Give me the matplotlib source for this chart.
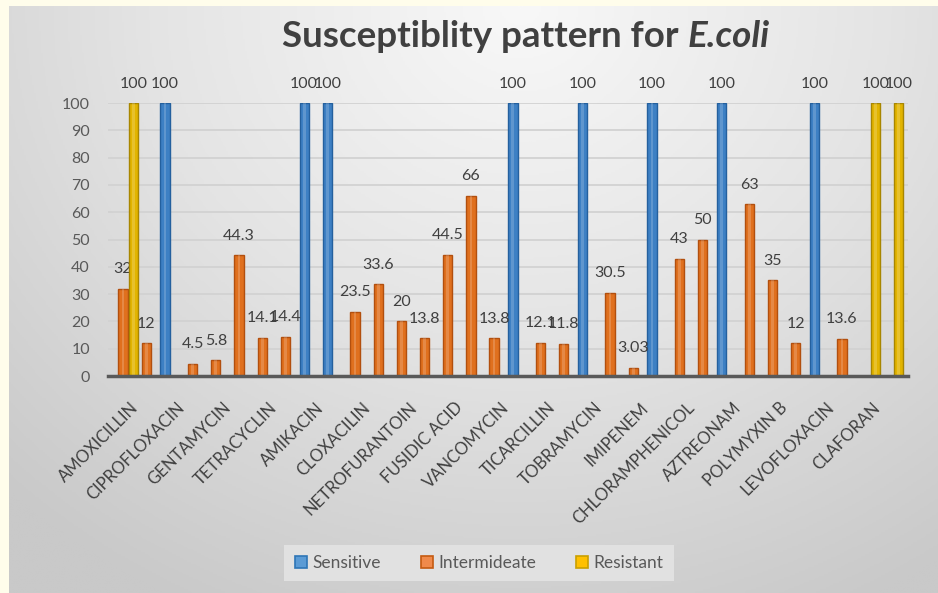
import numpy as np
import matplotlib.pyplot as plt
import matplotlib.transforms as mtransforms
from matplotlib.colors import LinearSegmentedColormap
from matplotlib.patches import Patch

plt.rcParams['font.family'] = ['Lato', 'DejaVu Sans']

# antibiotic names shown on the axis (every second category slot carries a label)
drugs = ['AMOXICILLIN', 'CIPROFLOXACIN', 'GENTAMYCIN', 'TETRACYCLIN', 'AMIKACIN',
         'CLOXACILIN', 'NETROFURANTOIN', 'FUSIDIC ACID', 'VANCOMYCIN', 'TICARCILLIN',
         'TOBRAMYCIN', 'IMIPENEM', 'CHLORAMPHENICOL', 'AZTREONAM', 'POLYMYXIN B',
         'LEVOFLOXACIN', 'CLAFORAN']

# percentages per category slot (None = no bar)
sensitive = [None, None, 100, None, None, None, None, None, 100, 100,
             None, None, None, None, None, None, None, 100, None, None,
             100, None, None, 100, None, None, 100, None, None, None,
             100, None, None, None]
intermediate = [32, 12, None, 4.5, 5.8, 44.3, 14.1, 14.4, None, None,
                23.5, 33.6, 20, 13.8, 44.5, 66, 13.8, None, 12.1, 11.8,
                None, 30.5, 3.03, None, 43, 50, None, 63, 35, 12,
                None, 13.6, None, None]
resistant = [100, None, None, None, None, None, None, None, None, None,
             None, None, None, None, None, None, None, None, None, None,
             None, None, None, None, None, None, None, None, None, None,
             None, None, 100, 100]

series_names = ['Sensitive', 'Intermideate', 'Resistant']

fig = plt.figure(figsize=(9.38, 5.93), dpi=100)
fig.patch.set_facecolor('#FFFDEB')

# chart area with a soft radial gradient (light at top centre)
bg = fig.add_axes([9 / 938, 0, 929 / 938, 1 - 6 / 593])
yy, xx = np.mgrid[0:1:300j, 0:1:500j]
r = np.sqrt((xx - 0.55) ** 2 + ((yy - 1.0) * 0.7) ** 2)
cmap = LinearSegmentedColormap.from_list('bg', ['#f8f8f8', '#e4e4e4', '#c9c9c9'])
bg.imshow(r, cmap=cmap, extent=[0, 1, 0, 1], aspect='auto', origin='lower', vmin=0, vmax=0.8)
bg.axis('off')

ax = fig.add_axes([108 / 938, 1 - 376 / 593, 800 / 938, 273 / 593])
ax.patch.set_alpha(0)

styles = [
    (sensitive, -0.19, '#3D80C4', '#24609E', '#5B9BD5', '#2E75B6'),
    (intermediate, 0.0, '#E0701E', '#B24F0E', '#F08A4B', '#C55A11'),
    (resistant, 0.45, '#E2B400', '#A88600', '#FFC000', '#C9A000'),
]

handles = []
for (values, offset, face, edge, lface, ledge), name in zip(styles, series_names):
    xs = [k + offset for k, v in enumerate(values) if v is not None]
    hs = [v for v in values if v is not None]
    ax.bar(xs, hs, width=0.4, color=face, edgecolor=edge, linewidth=1, zorder=3)
    # lighter strip for a rounded column look
    ax.bar(xs, hs, width=0.12, color='white', alpha=0.18, linewidth=0, zorder=4)
    for x, h in zip(xs, hs):
        ax.annotate(f'{h:g}', (x, h), xytext=(0, 9), textcoords='offset points',
                    ha='center', va='bottom', fontsize=11.5, color='#404040',
                    annotation_clip=False)
    handles.append(Patch(facecolor=lface, edgecolor=ledge, linewidth=1.2, label=name))

ax.set_ylim(0, 100)
ax.set_xlim(-0.65, 33.85)
ax.set_yticks(range(0, 101, 10))
ax.yaxis.grid(True, color='#d2d2d2', linewidth=1.3)
ax.set_axisbelow(True)
for s in ['top', 'right', 'left']:
    ax.spines[s].set_visible(False)
ax.spines['bottom'].set_color('#595959')
ax.spines['bottom'].set_linewidth(2.5)
ax.spines['bottom'].set_zorder(5)
ax.tick_params(axis='y', length=0, pad=13, labelsize=11.5, labelcolor='#595959')

ax.set_xticks(np.arange(0, 34, 2))
ax.set_xticklabels(drugs, rotation=45, ha='right', va='top', rotation_mode='anchor',
                   fontsize=12, color='#404040')
ax.tick_params(axis='x', length=0, pad=17)
shift = mtransforms.ScaledTranslation(7 / 100, 0, fig.dpi_scale_trans)
for lbl in ax.get_xticklabels():
    lbl.set_transform(lbl.get_transform() + shift)

# title: plain bold part plus bold italic organism name
t1 = fig.text(275 / 938, 1 - 47 / 593, 'Susceptiblity pattern for ', fontsize=26.5,
              fontweight='bold', color='#404040', ha='left', va='baseline')
t2 = ax.annotate('E.coli', xy=(1, 0), xycoords=t1, fontsize=26.5, fontweight='bold',
                 fontstyle='italic', color='#404040', ha='left', va='bottom')
fig.canvas.draw()
rend = fig.canvas.get_renderer()
b1 = t1.get_window_extent(rend)
b2 = t2.get_window_extent(rend)
width = b2.x1 - b1.x0
t1.set_x((526 - width / 2) / 938)

fig.legend(handles=handles, loc='center', bbox_to_anchor=(479 / 938, 1 - 563 / 593),
           ncol=3, frameon=True, facecolor='#e1e1e1', edgecolor='none', framealpha=1,
           fancybox=False, handlelength=0.7, handleheight=0.7, columnspacing=2.3,
           handletextpad=0.3, fontsize=12.5, labelcolor='#595959', borderpad=0.6)

fig.savefig('out.png', dpi=100, facecolor=fig.get_facecolor())
